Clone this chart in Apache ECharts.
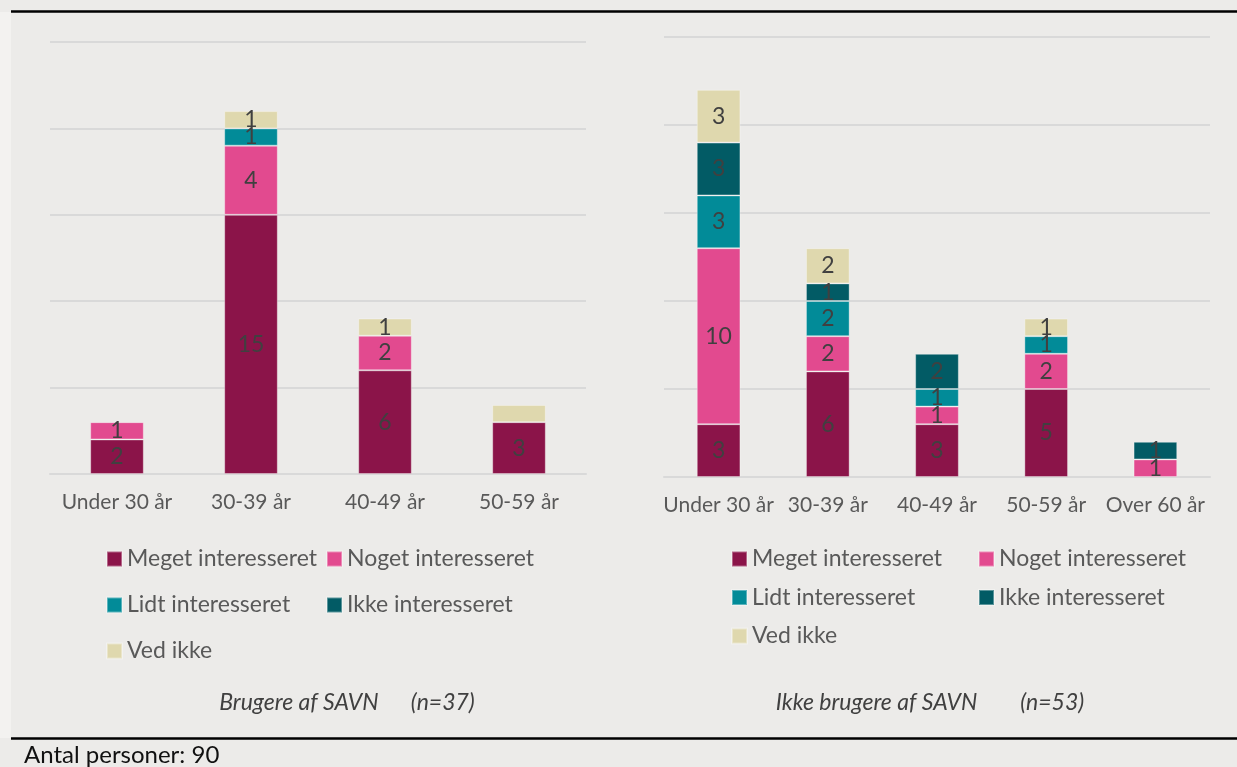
<!DOCTYPE html>
<html>
<head>
<meta charset="utf-8">
<title>Interesse fordelt på alder</title>
<script src="https://cdn.jsdelivr.net/npm/echarts@6/dist/echarts.min.js"></script>
<style>
  html, body { margin: 0; padding: 0; background: #ECEBE9; }
  #main { width: 1237px; height: 767px; }
</style>
</head>
<body>
<div id="main"></div>
<script>
// kategorier
var ageLeft = ["Under 30 år", "30-39 år", "40-49 år", "50-59 år"];
var ageRight = ["Under 30 år", "30-39 år", "40-49 år", "50-59 år", "Over 60 år"];
var levels = ["Meget interesseret", "Noget interesseret", "Lidt interesseret", "Ikke interesseret", "Ved ikke"];
var levelColors = ["#8B1449", "#E24A8F", "#028B98", "#025B65", "#DFD8AE"];

// brugere af SAVN (n=37)
var brugMeget = [2, 15, 6, 3];
var brugNoget = [1, 4, 2, null];
var brugLidt = [null, 1, null, null];
var brugIkke = [null, null, null, null];
var brugVed = [null, 1, 1, 1];

// ikke brugere af SAVN (n=53)
var ikkeMeget = [3, 6, 3, 5, null];
var ikkeNoget = [10, 2, 1, 2, 1];
var ikkeLidt = [3, 2, 1, 1, null];
var ikkeIkke = [3, 1, 2, null, 1];
var ikkeVed = [3, 2, null, 1, null];

// y-akse (skjult) 0..25 step 5
var yMin = 0, yMax = 25, yStep = 5;

var brugSets = [brugMeget, brugNoget, brugLidt, brugIkke, brugVed];
var ikkeSets = [ikkeMeget, ikkeNoget, ikkeLidt, ikkeIkke, ikkeVed];
// label vises ikke i originalen for 50-59 år / Ved ikke (venstre)
var hiddenLabels = { "4-3": true };

var FONT = "Lato";

function $extend(a, b) {
  var o = {};
  for (var p in a) o[p] = a[p];
  for (var q in b) o[q] = b[q];
  return o;
}

function makeData(arr, level) {
  var out = [];
  for (var i = 0; i < arr.length; i++) {
    if (hiddenLabels[level + "-" + i] && arr[i] != null) {
      out.push({ value: arr[i], label: { show: false } });
    } else {
      out.push(arr[i]);
    }
  }
  return out;
}

var series = [];
for (var k = 0; k < levels.length; k++) {
  var base = {
    name: levels[k],
    type: "bar",
    barWidth: "40%",
    itemStyle: { color: levelColors[k], borderColor: "rgba(255,255,255,0.35)", borderWidth: 1 },
    label: { show: true, position: "inside", color: "#404040", fontSize: 23, fontFamily: FONT },
    emphasis: { disabled: true }
  };
  series.push($extend(base, { xAxisIndex: 0, yAxisIndex: 0, stack: "L", data: makeData(brugSets[k], k) }));
  series.push($extend(base, { xAxisIndex: 1, yAxisIndex: 1, stack: "R", data: ikkeSets[k].slice() }));
}

function xAxisCfg(idx, cats) {
  return {
    type: "category", gridIndex: idx, data: cats,
    axisTick: { show: false },
    axisLine: { lineStyle: { color: "#D9D9D9", width: 2 } },
    axisLabel: { color: "#595959", fontSize: 21, fontFamily: FONT, margin: 18, interval: 0 }
  };
}
function yAxisCfg(idx) {
  return {
    type: "value", gridIndex: idx, min: yMin, max: yMax, interval: yStep,
    axisLabel: { show: false }, axisLine: { show: false }, axisTick: { show: false },
    splitLine: { lineStyle: { color: "#D9D9D9", width: 2 } }
  };
}
function legendCfg(names, left, top, gap) {
  return {
    orient: "vertical", left: left, top: top, itemGap: gap, padding: 0,
    itemWidth: 15, itemHeight: 15, icon: "rect", selectedMode: false,
    data: names,
    textStyle: { color: "#595959", fontSize: 23, fontFamily: FONT, lineHeight: 24 }
  };
}

var chart = echarts.init(document.getElementById("main"), null, { renderer: "canvas" });
var option = {
  backgroundColor: "#ECEBE9",
  animation: false,
  color: levelColors,
  grid: [
    { left: 50, top: 42, width: 536, height: 432 },
    { left: 664, top: 37, width: 546, height: 440 }
  ],
  xAxis: [xAxisCfg(0, ageLeft), xAxisCfg(1, ageRight)],
  yAxis: [yAxisCfg(0), yAxisCfg(1)],
  legend: [
    legendCfg([levels[0], levels[2], levels[4]], 106, 547, 22),
    legendCfg([levels[1], levels[3]], 326, 547, 22),
    legendCfg([levels[0], levels[2], levels[4]], 731, 547, 14.5),
    legendCfg([levels[1], levels[3]], 978, 547, 14.5)
  ],
  graphic: [
    { type: "rect", silent: true, z: -1, shape: { x: 0, y: 12, width: 11, height: 726 }, style: { fill: "#F3F2F0" } },
    { type: "line", silent: true, shape: { x1: 11, y1: 11.5, x2: 1237, y2: 11.5 }, style: { stroke: "#000", lineWidth: 2.5 } },
    { type: "line", silent: true, shape: { x1: 11, y1: 738.5, x2: 1237, y2: 738.5 }, style: { stroke: "#000", lineWidth: 2.5 } },
    { type: "text", silent: true, style: { x: 347, y: 703, text: "Brugere af SAVN      (n=37)", align: "center", verticalAlign: "middle",
        font: "italic 23px " + FONT, fill: "#404040" } },
    { type: "text", silent: true, style: { x: 930, y: 703, text: "Ikke brugere af SAVN        (n=53)", align: "center", verticalAlign: "middle",
        font: "italic 23px " + FONT, fill: "#404040" } },
    { type: "text", silent: true, style: { x: 24, y: 755, text: "Antal personer: 90", align: "left", verticalAlign: "middle",
        font: "24px " + FONT, fill: "#111111" } }
  ],
  series: series
};
chart.setOption(option);
</script>
</body>
</html>
